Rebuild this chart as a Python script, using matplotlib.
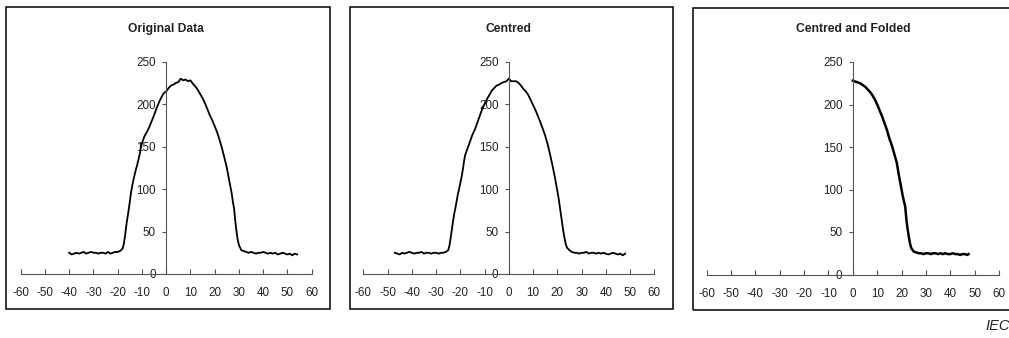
import matplotlib
matplotlib.use("Agg")
import matplotlib.pyplot as plt
from matplotlib.patches import Rectangle

plt.rcParams['font.family'] = ['Liberation Sans', 'DejaVu Sans']

# Original Data panel (x, y)
orig_pts = [(-40, 25), (-39, 23), (-38, 24), (-37, 25), (-36, 24), (-35, 25), (-34, 26), (-33, 24), (-32, 25),
            (-31, 26), (-30, 25), (-29, 25), (-28, 24), (-27, 25), (-26, 25), (-25, 24), (-24, 26), (-23, 24),
            (-22, 25), (-21, 26), (-20, 26), (-19, 27), (-18, 30), (-17.5, 35), (-17, 44), (-16.5, 56),
            (-16, 66), (-15.5, 75), (-15, 85), (-14.5, 96), (-14, 104), (-13.5, 111), (-13, 117), (-12.5, 123),
            (-12, 128), (-11.5, 134), (-11, 140), (-10.5, 148), (-10, 154), (-9.5, 158), (-9, 162), (-8, 167),
            (-7, 173), (-6, 180), (-5, 187), (-4, 195), (-3, 202), (-2, 208), (-1, 213), (0, 215), (1, 219),
            (2, 222), (3, 223), (4, 225), (5, 226), (6, 230), (7, 228), (8, 229), (9, 227), (10, 228), (11, 224),
            (12, 221), (13, 217), (14, 212), (15, 207), (16, 201), (17, 194), (18, 187), (19, 181), (20, 174),
            (21, 167), (22, 158), (23, 148), (24, 137), (25, 125), (26, 110), (27, 95), (27.5, 85), (28, 77),
            (28.5, 62), (29, 50), (29.5, 40), (30, 34), (30.5, 31), (31, 28), (32, 27), (33, 26), (34, 25),
            (35, 26), (36, 25), (37, 24), (38, 25), (39, 25), (40, 26), (41, 25), (42, 24), (43, 25), (44, 24),
            (45, 25), (46, 23), (47, 24), (48, 25), (49, 24), (50, 23), (51, 24), (52, 22), (53, 24), (54, 23)]

# Centred panel
cent_pts = [(-47, 25), (-46, 24), (-45, 23), (-44, 25), (-43, 24), (-42, 25), (-41, 26), (-40, 25), (-39, 24),
            (-38, 25), (-37, 25), (-36, 26), (-35, 24), (-34, 25), (-33, 25), (-32, 24), (-31, 25), (-30, 25),
            (-29, 24), (-28, 25), (-27, 25), (-26, 26), (-25, 28), (-24.5, 33), (-24, 42), (-23.5, 52),
            (-23, 62), (-22.5, 71), (-22, 78), (-21.5, 86), (-21, 94), (-20.5, 100), (-20, 107), (-19.5, 114),
            (-19, 122), (-18.5, 132), (-18, 140), (-17.5, 144), (-17, 148), (-16, 156), (-15, 164), (-14, 170),
            (-13, 178), (-12, 186), (-11, 194), (-10, 200), (-9, 206), (-8, 211), (-7, 216), (-6, 219),
            (-5, 222), (-4, 223), (-3, 225), (-2, 226), (-1, 227), (0, 230), (1, 227), (2, 227), (3, 227),
            (4, 225), (5, 222), (6, 218), (7, 215), (8, 211), (9, 205), (10, 199), (11, 193), (12, 186),
            (13, 179), (14, 171), (15, 163), (16, 153), (17, 141), (18, 128), (19, 114), (20, 98), (20.5, 90),
            (21, 80), (21.5, 70), (22, 60), (22.5, 50), (23, 42), (23.5, 35), (24, 31), (25, 28), (26, 26),
            (27, 25), (28, 25), (29, 24), (30, 25), (31, 25), (32, 26), (33, 24), (34, 25), (35, 25), (36, 24),
            (37, 25), (38, 24), (39, 25), (40, 24), (41, 23), (42, 24), (43, 25), (44, 24), (45, 23), (46, 24),
            (47, 22), (48, 24)]

# Centred and Folded panel
fold_pts = [(0, 228), (1, 227), (2, 226), (3, 225), (4, 223), (5, 221), (6, 218), (7, 215), (8, 211), (9, 206),
            (10, 200), (11, 193), (12, 186), (13, 178), (14, 170), (15, 160), (16, 152), (17, 142), (18, 132),
            (19, 115), (20, 100), (20.5, 92), (21, 86), (21.5, 80), (22, 64), (22.5, 53), (23, 44), (23.5, 36),
            (24, 31), (25, 27), (26, 26), (27, 25), (28, 25), (29, 24), (30, 25), (31, 25), (32, 24), (33, 25),
            (34, 25), (35, 24), (36, 25), (37, 24), (38, 25), (39, 24), (40, 24), (41, 25), (42, 24), (43, 24),
            (44, 23), (45, 24), (46, 24), (47, 23), (47.5, 24)]

titles = ["Original Data", "Centred", "Centred and Folded"]
x_ticks = list(range(-60, 61, 10))
y_ticks = [0, 50, 100, 150, 200, 250]

W, H = 1009, 338
fig = plt.figure(figsize=(W / 100, H / 100), dpi=100)

# panel frames (pixels: left, top, right, bottom)
frames = [(6, 7, 330, 309), (350, 7, 673, 309), (693, 8, 1020, 310)]
for l, t, r, b in frames:
    fig.add_artist(Rectangle((l / W, 1 - b / H), (r - l) / W, (b - t) / H,
                             transform=fig.transFigure, fill=False, edgecolor="black", linewidth=1.1))

# plot areas (pixels: x of -60, x of 60, y of 250, y of 0)
areas = [(20.7, 311.7, 61.7, 274), (363.3, 654.3, 61.7, 274), (706.7, 999, 62, 274.5)]
series = [(orig_pts, 1.3), (cent_pts, 1.3), (fold_pts, 1.8)]

for (x0, x1, yt, yb), (pts, lw), title in zip(areas, series, titles):
    ax = fig.add_axes([x0 / W, 1 - yb / H, (x1 - x0) / W, (yb - yt) / H])
    xs = [p[0] for p in pts]
    ys = [p[1] for p in pts]
    ax.plot(xs, ys, color="black", linewidth=lw)
    ax.set_xlim(-60, 60)
    ax.set_ylim(0, 250)
    ax.patch.set_visible(False)
    for s in ["top", "right"]:
        ax.spines[s].set_visible(False)
    ax.spines["left"].set_position(("data", 0))
    ax.spines["left"].set_color("#555555")
    ax.spines["bottom"].set_color("#555555")
    ax.spines["left"].set_linewidth(0.8)
    ax.spines["bottom"].set_linewidth(0.8)
    ax.set_xticks(x_ticks)
    ax.set_xticklabels([str(v) for v in x_ticks])
    ax.set_yticks(y_ticks)
    ax.tick_params(axis="x", direction="in", length=3.5, width=0.8, color="#555555",
                   pad=9.5, labelsize=8.4, labelcolor="#222222")
    ax.tick_params(axis="y", direction="out", length=3, width=0.8, color="#555555",
                   pad=4.5, labelsize=8.4, labelcolor="#222222")
    ax.set_title(title, fontsize=8.7, fontweight="bold", color="#222222", pad=21.5)

fig.text(985 / W, 1 - 326 / H, "IEC", fontsize=10.5, style="italic", color="#222222",
         ha="left", va="center")

fig.savefig("out.png", dpi=100)
